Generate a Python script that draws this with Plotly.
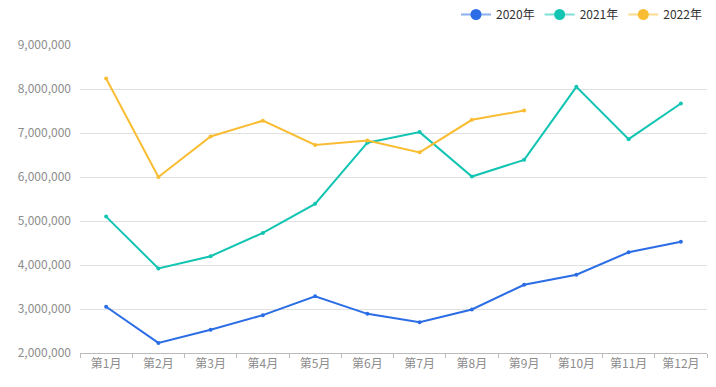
import plotly.graph_objects as go

months = ["第1月", "第2月", "第3月", "第4月", "第5月", "第6月",
          "第7月", "第8月", "第9月", "第10月", "第11月", "第12月"]
y2020 = [3050000, 2230000, 2530000, 2860000, 3290000, 2890000,
         2700000, 2990000, 3550000, 3780000, 4290000, 4530000]
y2021 = [5100000, 3920000, 4200000, 4730000, 5390000, 6780000,
         7020000, 6010000, 6390000, 8050000, 6860000, 7670000]
y2022 = [8240000, 6000000, 6920000, 7280000, 6730000, 6830000,
         6560000, 7300000, 7510000]

series = [("2020年", y2020, "#2B6DE5", "rgba(43,109,229,0.55)"),
          ("2021年", y2021, "#12C4B2", "rgba(18,196,178,0.55)"),
          ("2022年", y2022, "#F9BD33", "rgba(249,189,51,0.55)")]

fig = go.Figure()
for name, vals, color, light in series:
    fig.add_trace(go.Scatter(
        x=months[:len(vals)], y=vals, name=name, mode="lines+markers",
        line=dict(color=color, width=2),
        marker=dict(color=color, size=4),
        hoverinfo="x+y", legendgroup=name, showlegend=False,
    ))
for name, vals, color, light in series:
    # legend-only entry (no data drawn) to show a big dot on a light line
    fig.add_trace(go.Scatter(
        x=[None], y=[None], name=name, mode="lines+markers",
        line=dict(color=light, width=2),
        marker=dict(color=color, size=11),
        legendgroup=name, showlegend=True, hoverinfo="skip",
    ))

font = "Noto Sans CJK SC, Microsoft YaHei, sans-serif"
fig.update_layout(
    width=716, height=387,
    margin=dict(l=80, r=9, t=45, b=34, autoexpand=False),
    paper_bgcolor="white", plot_bgcolor="white",
    font=dict(family=font, size=12, color="#8C8C8C"),
    showlegend=True,
    legend=dict(orientation="h", x=1.0, xanchor="right", y=1.0, yanchor="top",
                yref="container", xref="paper",
                font=dict(size=12, color="#333333"), itemwidth=30,
                bgcolor="rgba(0,0,0,0)"),
    xaxis=dict(type="category", categoryorder="array", categoryarray=months,
               range=[-0.5, 11.5], showgrid=False, showline=True,
               linecolor="#BBBBBB", linewidth=1, ticks="outside",
               tickson="boundaries", ticklen=4, tickcolor="#BBBBBB",
               tickfont=dict(size=12, color="#8C8C8C"), zeroline=False,
               automargin=False),
    yaxis=dict(range=[2000000, 9000000], dtick=1000000, tick0=0,
               tickformat=",d", showgrid=True, gridcolor="#E0E0E0",
               gridwidth=1, zeroline=False, showline=False,
               ticklabelstandoff=8, automargin=False,
               tickfont=dict(size=12, color="#8C8C8C")),
)

fig.write_html(
    "out.html",
    config={"displayModeBar": False},
    post_script="document.body.style.margin='0';document.body.style.overflow='hidden';",
)
